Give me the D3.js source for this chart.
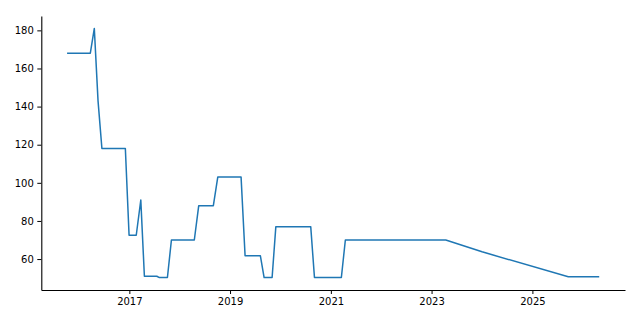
<!DOCTYPE html>
<html>
<head>
<meta charset="utf-8">
<script src="https://cdn.jsdelivr.net/npm/d3@7"></script>
<style>
  html, body { margin: 0; padding: 0; background: #fff; }
  svg { display: block; }
  text { font-family: "DejaVu Sans", sans-serif; }
</style>
</head>
<body>
<svg id="chart" width="640" height="320"></svg>
<script>
const dates = [
  "2015-10-13", "2016-03-24", "2016-04-22", "2016-05-19", "2016-06-16",
  "2016-12-03", "2016-12-30", "2017-02-20", "2017-03-25", "2017-04-20",
  "2017-07-19", "2017-08-07", "2017-10-04", "2017-11-02", "2018-04-17",
  "2018-05-19", "2018-09-02", "2018-10-04", "2019-03-22", "2019-04-20",
  "2019-08-09", "2019-09-05", "2019-11-02", "2019-11-29", "2020-08-08",
  "2020-09-04", "2021-03-18", "2021-04-16", "2023-04-14", "2024-01-02",
  "2025-09-18", "2026-04-25"
];
const values = [
  168, 168, 181, 143, 118,
  118, 72.5, 72.5, 91, 51,
  51, 50.3, 50.3, 70, 70,
  88, 88, 103, 103, 61.7,
  61.7, 50.3, 50.3, 77, 77,
  50.3, 50.3, 70, 70, 63.8,
  50.7, 50.7
];
const yTicks = [60, 80, 100, 120, 140, 160, 180];
const xTickYears = [2017, 2019, 2021, 2023, 2025];

const W = 640, H = 320;
const margin = { left: 41.3, right: 15, top: 16, bottom: 30 };
const parse = d3.utcParse("%Y-%m-%d");
const data = dates.map((d, i) => ({ date: parse(d), value: values[i] }));

const svg = d3.select("#chart");

const xExt = d3.extent(data, d => d.date.getTime());
const xPad = (xExt[1] - xExt[0]) * 0.05;
const x = d3.scaleUtc()
  .domain([new Date(xExt[0] - xPad), new Date(xExt[1] + xPad)])
  .range([margin.left, W - margin.right]);

const yExt = d3.extent(values);
const yPad = (yExt[1] - yExt[0]) * 0.05;
const y = d3.scaleLinear()
  .domain([yExt[0] - yPad, yExt[1] + yPad])
  .range([H - margin.bottom, margin.top]);

const xAxis = d3.axisBottom(x)
  .tickValues(xTickYears.map(yr => new Date(Date.UTC(yr, 0, 1))))
  .tickFormat(d3.utcFormat("%Y"))
  .tickSize(4).tickPadding(3.5).tickSizeOuter(0);

const yAxis = d3.axisLeft(y)
  .tickValues(yTicks)
  .tickSize(4).tickPadding(3.5).tickSizeOuter(0);

const gx = svg.append("g")
  .attr("transform", `translate(0,${H - margin.bottom})`)
  .call(xAxis);
const gy = svg.append("g")
  .attr("transform", `translate(${margin.left},0)`)
  .call(yAxis);

[gx, gy].forEach(g => {
  g.selectAll("text").attr("font-size", 10).attr("font-family", "DejaVu Sans, sans-serif").attr("fill", "#000");
  g.selectAll("line").attr("stroke", "#000").attr("stroke-width", 1);
  g.select(".domain").attr("stroke", "#000").attr("stroke-width", 1.1);
});

const line = d3.line()
  .x(d => x(d.date))
  .y(d => y(d.value));

svg.append("path")
  .datum(data)
  .attr("fill", "none")
  .attr("stroke", "#1f77b4")
  .attr("stroke-width", 1.5)
  .attr("stroke-linejoin", "round")
  .attr("stroke-linecap", "square")
  .attr("d", line);
</script>
</body>
</html>
